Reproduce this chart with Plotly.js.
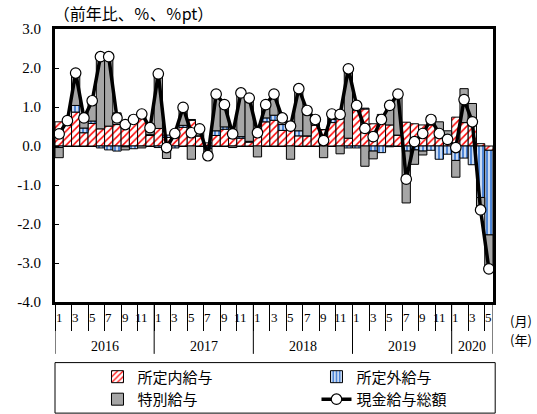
<!DOCTYPE html>
<html>
<head>
<meta charset="utf-8">
<script src="https://cdn.plot.ly/plotly-3.0.1.min.js"></script>
<style>html,body{margin:0;padding:0;background:#fff;}#chart{width:537px;height:414px;}</style>
</head>
<body>
<div id="chart"></div>
<script>
// ---- data ----
const years = [2016, 2017, 2018, 2019, 2020];
const monthsPerYear = [12, 12, 12, 12, 5];
const categories = [];
years.forEach((y, k) => { for (let m = 1; m <= monthsPerYear[k]; m++) categories.push(y + "-" + m); });

const shoteinai = [0.62,0.53,0.87,0.34,0.58,0.44,0.51,0.55,0.62,0.70,0.85,0.27,
                   0.45,0.22,0.22,0.48,0.66,0.26,0.08,0.27,0.43,0.20,0.20,0.10,
                   0.40,0.62,0.66,0.40,0.50,0.26,0.26,0.54,0.42,0.60,0.70,0.20,
                   0.92,0.95,0.57,0.57,0.54,0.28,0.61,0.57,0.54,0.54,0.38,0.20,
                   0.74,0.60,0.55,0.06,-0.11];
const shoteigai = [-0.04,0.02,0.17,0.12,0.06,-0.05,-0.10,-0.13,-0.02,-0.07,0.02,0.02,
                   -0.04,0.06,-0.05,0.05,0.02,0.00,-0.06,0.12,0.06,0.15,0.04,0.02,
                   0.02,0.10,0.13,0.15,0.13,0.13,0.00,0.00,0.00,0.08,0.08,-0.05,
                   -0.05,0.02,-0.13,-0.17,-0.02,0.00,-0.13,-0.10,-0.13,-0.11,-0.34,-0.21,
                   -0.37,-0.31,-0.48,-1.32,-2.17];
const tokubetsu = [-0.26,0.10,0.83,0.27,0.54,1.92,1.86,0.30,-0.08,0.04,-0.05,0.18,
                   1.42,-0.32,0.15,0.46,-0.34,0.18,-0.27,0.94,0.57,-0.04,1.12,1.11,
                   -0.28,0.34,0.54,0.22,-0.34,1.08,0.65,0.14,-0.30,0.14,-0.20,1.78,
                   0.10,-0.52,-0.20,0.24,0.55,1.05,-1.33,-0.37,-0.10,0.23,0.24,0.19,
                   -0.43,0.87,0.54,-0.30,-0.87];
const total = [0.31,0.65,1.87,0.72,1.16,2.29,2.29,0.72,0.55,0.68,0.82,0.47,
               1.85,-0.04,0.32,0.99,0.34,0.44,-0.25,1.33,1.06,0.31,1.36,1.23,
               0.34,1.06,1.33,0.72,0.51,1.47,0.91,0.68,0.14,0.82,0.81,1.98,
               1.04,0.45,0.24,0.68,1.04,1.33,-0.85,0.11,0.32,0.68,0.32,0.17,
               -0.04,1.19,0.62,-1.64,-3.15];
const yTickVals = [-4, -3, -2, -1, 0, 1, 2, 3];
const yTickText = ["-4.0", "-3.0", "-2.0", "-1.0", "0.0", "1.0", "2.0", "3.0"];
const seriesNames = ["所定内給与", "所定外給与", "特別給与", "現金給与総額"];

// ---- styling ----
const serif = "Liberation Serif, DejaVu Serif, serif";
const jp = "Noto Sans CJK JP, sans-serif";
const outline = {color: "#000", width: 1};

const traces = [
  {type: "bar", name: seriesNames[0], x: categories, y: shoteinai, legend: "legend",
   marker: {color: "red", line: outline,
            pattern: {shape: "/", fgcolor: "red", bgcolor: "white", size: 5, solidity: 0.3}}},
  {type: "bar", name: seriesNames[1], x: categories, y: shoteigai, legend: "legend2",
   marker: {color: "#4f86d6", line: outline,
            pattern: {shape: "|", fgcolor: "white", bgcolor: "#4f86d6", size: 4, solidity: 0.35}}},
  {type: "bar", name: seriesNames[2], x: categories, y: tokubetsu, legend: "legend",
   marker: {color: "#a6a6a6", line: outline}},
  {type: "scatter", mode: "lines+markers", name: seriesNames[3], x: categories, y: total, legend: "legend2",
   line: {color: "#000", width: 3.5},
   marker: {symbol: "circle", size: 10.5, color: "#fff", line: {color: "#000", width: 1.2}}}
];

// year separators and labels
const shapes = [];
const annotations = [];
let start = 0;
years.forEach((y, k) => {
  shapes.push({type: "line", xref: "x", yref: "paper", x0: start - 0.5, x1: start - 0.5, y0: 0, y1: -0.19,
               line: {color: "#000", width: 1}});
  annotations.push({xref: "x", yref: "paper", x: start + (monthsPerYear[k] - 1) / 2, y: -0.162,
                    xanchor: "center", yanchor: "middle",
                    text: String(y), showarrow: false, font: {family: serif, size: 14, color: "#000"}});
  for (let m = 1; m <= monthsPerYear[k]; m += 2) {
    annotations.push({xref: "x", yref: "paper", x: start + m - 1, y: -0.057, text: String(m),
                      xanchor: "center", yanchor: "middle",
                      showarrow: false, font: {family: serif, size: 13, color: "#000"}});
  }
  start += monthsPerYear[k];
});
shapes.push({type: "line", xref: "x", yref: "paper", x0: start - 0.5, x1: start - 0.5, y0: 0, y1: -0.19,
             line: {color: "#000", width: 1}});
// legend frame
shapes.push({type: "rect", xref: "paper", yref: "paper", x0: 0, x1: 1.005, y0: -0.222, y1: -0.407,
             line: {color: "#000", width: 1}});
annotations.push({xref: "paper", yref: "paper", x: 1.034, y: -0.066, text: "(月)", showarrow: false,
                  xanchor: "left", yanchor: "middle", font: {family: jp, size: 13, color: "#000"}});
annotations.push({xref: "paper", yref: "paper", x: 1.034, y: -0.136, text: "(年)", showarrow: false,
                  xanchor: "left", yanchor: "middle", font: {family: jp, size: 13, color: "#000"}});

const legendBase = {orientation: "v", yanchor: "top", y: -0.214, xanchor: "left",
                    font: {family: jp, size: 15, color: "#000"}, bgcolor: "rgba(0,0,0,0)",
                    itemwidth: 30, tracegroupgap: 0, traceorder: "normal"};

const layout = {
  width: 537, height: 414,
  margin: {l: 55, r: 44, t: 29, b: 112, autoexpand: false},
  paper_bgcolor: "#fff", plot_bgcolor: "#fff",
  barmode: "relative", bargap: 0,
  showlegend: true,
  title: {text: "（前年比、％、％pt）", x: 0.1, xanchor: "left", xref: "container",
          y: 0.965, yanchor: "middle", yref: "container",
          font: {family: jp, size: 16, color: "#000"}},
  xaxis: {type: "category", range: [-0.5, categories.length - 0.5],
          showline: true, mirror: true, linewidth: 3, linecolor: "#000",
          ticks: "outside", tickson: "boundaries", ticklen: 26, tickwidth: 1, tickcolor: "#000",
          showticklabels: false, showgrid: false, zeroline: false, fixedrange: true},
  yaxis: {range: [-4, 3], tickvals: yTickVals, ticktext: yTickText,
          showline: true, mirror: true, linewidth: 3, linecolor: "#000",
          ticks: "inside", ticklen: 4, tickcolor: "#000", ticklabelstandoff: 8,
          showgrid: false, zeroline: true, zerolinecolor: "#000", zerolinewidth: 1,
          tickfont: {family: serif, size: 15, color: "#000"}, fixedrange: true},
  legend: Object.assign({}, legendBase, {x: 0.097}),
  legend2: Object.assign({}, legendBase, {x: 0.597}),
  shapes: shapes,
  annotations: annotations
};

Plotly.newPlot("chart", traces, layout, {displayModeBar: false, staticPlot: true});
</script>
</body>
</html>
